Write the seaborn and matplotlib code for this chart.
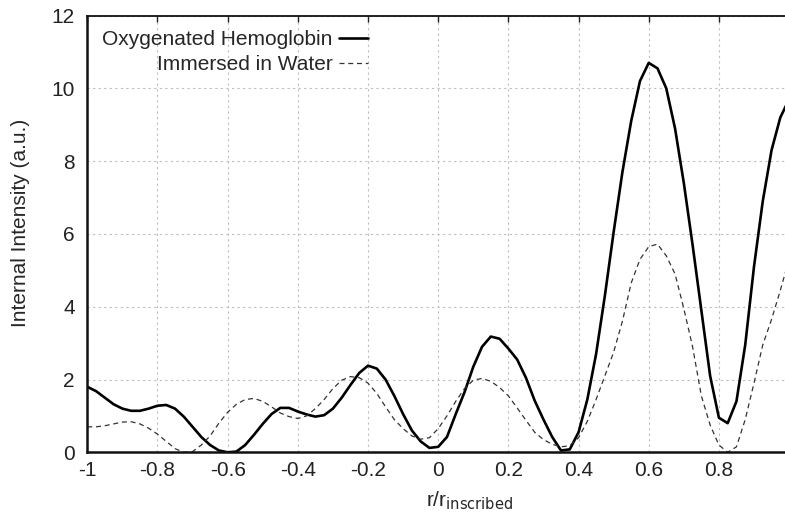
import matplotlib
matplotlib.use("Agg")
import matplotlib.pyplot as plt
import numpy as np
import seaborn as sns

# r / r_inscribed positions (every 0.025)
r = np.round(np.arange(-1.0, 1.0001, 0.025), 3)

# Oxygenated Hemoglobin (solid)
hemoglobin = [
    1.80, 1.68, 1.50, 1.32, 1.20, 1.14, 1.14, 1.20, 1.28, 1.30,
    1.20, 0.98, 0.70, 0.42, 0.20, 0.05, 0.00, 0.02, 0.20, 0.48,
    0.78, 1.05, 1.22, 1.22, 1.12, 1.04, 0.98, 1.02, 1.20, 1.50,
    1.85, 2.18, 2.38, 2.30, 2.00, 1.55, 1.05, 0.60, 0.30, 0.12,
    0.15, 0.42, 1.05, 1.65, 2.35, 2.90, 3.18, 3.12, 2.85, 2.55,
    2.05, 1.42, 0.90, 0.42, 0.05, 0.08, 0.55, 1.45, 2.70, 4.30,
    6.05, 7.70, 9.10, 10.20, 10.70, 10.55, 10.00, 8.90, 7.40, 5.70,
    3.90, 2.10, 0.95, 0.80, 1.40, 2.95, 5.10, 6.90, 8.30, 9.20,
    9.70,
]

# Immersed in Water (dashed)
water = [
    0.70, 0.70, 0.73, 0.78, 0.83, 0.84, 0.78, 0.66, 0.50, 0.30,
    0.10, 0.00, 0.02, 0.20, 0.45, 0.80, 1.10, 1.32, 1.45, 1.48,
    1.40, 1.25, 1.08, 0.98, 0.93, 1.00, 1.20, 1.45, 1.75, 1.98,
    2.08, 2.05, 1.90, 1.62, 1.25, 0.90, 0.65, 0.45, 0.36, 0.40,
    0.65, 1.00, 1.40, 1.75, 1.98, 2.03, 1.95, 1.78, 1.55, 1.22,
    0.88, 0.55, 0.35, 0.22, 0.15, 0.18, 0.40, 0.85, 1.45, 2.10,
    2.75, 3.60, 4.65, 5.30, 5.65, 5.72, 5.40, 4.90, 3.95, 2.90,
    1.55, 0.75, 0.20, 0.00, 0.15, 0.90, 1.90, 2.95, 3.65, 4.45,
    5.30,
]

x_ticks = [-1, -0.8, -0.6, -0.4, -0.2, 0, 0.2, 0.4, 0.6, 0.8]
x_ticklabels = ["-1", "-0.8", "-0.6", "-0.4", "-0.2", "0", "0.2", "0.4", "0.6", "0.8"]
y_ticks = [0, 2, 4, 6, 8, 10, 12]

sns.set_style("white")
plt.rcParams["font.family"] = ["Liberation Sans", "DejaVu Sans"]

fig = plt.figure(figsize=(7.85, 5.23), dpi=100)
ax = fig.add_axes([0.1112, 0.1352, 0.894, 0.835])

sns.lineplot(x=r, y=hemoglobin, ax=ax, color="black", linewidth=1.9,
             label="Oxygenated Hemoglobin")
sns.lineplot(x=r, y=water, ax=ax, color="#333333", linewidth=0.9,
             linestyle=(0, (4, 3)), label="Immersed in Water")

ax.set_xlim(-1, 1)
ax.set_ylim(0, 12)
ax.set_xticks(x_ticks)
ax.set_xticklabels(x_ticklabels)
ax.set_yticks(y_ticks)

ax.grid(True, color="#bdbdbd", linestyle=(0, (2, 3)), linewidth=0.8)
ax.tick_params(direction="in", length=4, width=1, top=True, labelsize=15,
               colors="#222222")
ax.tick_params(axis="x", pad=6)
ax.tick_params(axis="y", pad=9)

for side in ["left", "bottom"]:
    ax.spines[side].set_linewidth(1.8)
ax.spines["top"].set_linewidth(1.3)
for s in ax.spines.values():
    s.set_color("#111111")

ax.set_xlabel(r"r/r$_{\mathrm{inscribed}}$", fontsize=15)
ax.set_ylabel("Internal Intensity (a.u.)", fontsize=15)
ax.xaxis.set_label_coords(0.544, -0.085)
ax.yaxis.set_label_coords(-0.082, 0.525)

ax.legend(loc="upper left", bbox_to_anchor=(0.0, 1.0), frameon=False,
          markerfirst=False, fontsize=15, handlelength=1.4, handletextpad=0.3,
          labelspacing=0.3, borderaxespad=0.3)

fig.savefig("out.png", dpi=100, facecolor="white")
